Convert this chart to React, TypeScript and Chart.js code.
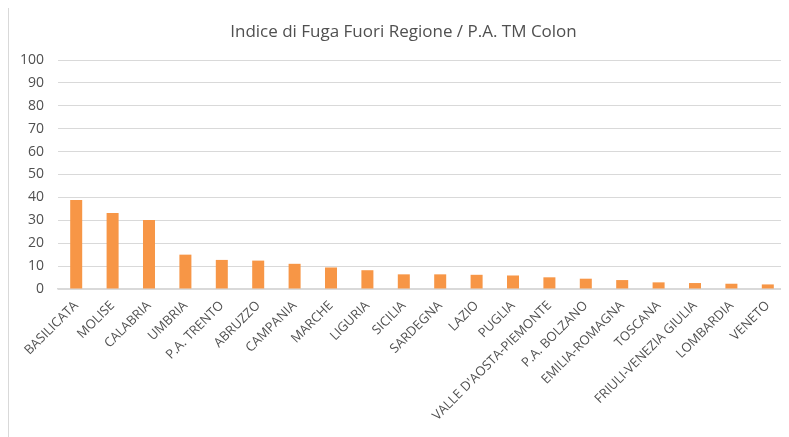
import React, { useEffect, useRef } from "react";
import { Chart, registerables } from "chart.js";

Chart.register(...registerables);

const TITLE = "Indice di Fuga Fuori Regione / P.A. TM Colon";

const categories: string[] = [
  "BASILICATA",
  "MOLISE",
  "CALABRIA",
  "UMBRIA",
  "P.A. TRENTO",
  "ABRUZZO",
  "CAMPANIA",
  "MARCHE",
  "LIGURIA",
  "SICILIA",
  "SARDEGNA",
  "LAZIO",
  "PUGLIA",
  "VALLE D'AOSTA-PIEMONTE",
  "P.A. BOLZANO",
  "EMILIA-ROMAGNA",
  "TOSCANA",
  "FRIULI-VENEZIA GIULIA",
  "LOMBARDIA",
  "VENETO",
];

const values: number[] = [
  38.9, 33.2, 30.1, 15.0, 12.7, 12.4, 11.0, 9.4, 8.2, 6.4, 6.4, 6.2, 5.9, 5.1,
  4.5, 3.9, 2.9, 2.6, 2.3, 2.0,
];

const yMin = 0;
const yMax = 100;
const yStep = 10;

const FONT = "'Open Sans', 'Noto Sans', sans-serif";

export default function App() {
  const ref = useRef<HTMLCanvasElement | null>(null);

  useEffect(() => {
    if (!ref.current) return;
    const chart = new Chart(ref.current, {
      type: "bar",
      data: {
        labels: categories,
        datasets: [
          {
            data: values,
            backgroundColor: "#F79646",
            borderWidth: 0,
            barPercentage: 0.33,
            categoryPercentage: 1,
          },
        ],
      },
      options: {
        responsive: false,
        animation: false,
        layout: { padding: { left: 12, right: 15, top: 14, bottom: 0 } },
        plugins: {
          legend: { display: false },
          tooltip: { enabled: false },
          title: {
            display: true,
            text: TITLE,
            color: "#505050",
            font: { family: FONT, size: 17, weight: "normal" },
            padding: { top: 0, bottom: 17.6 },
          },
        },
        scales: {
          x: {
            grid: { display: false, drawTicks: false },
            border: { display: true, color: "#d9d9d9", width: 1.5 },
            ticks: {
              color: "#505050",
              font: { family: FONT, size: 13 },
              minRotation: 45,
              maxRotation: 45,
              autoSkip: false,
              padding: 9,
            },
            afterFit: (scale: any) => {
              scale.height = 149;
            },
          },
          y: {
            min: yMin,
            max: yMax,
            grid: { color: "#d9d9d9", drawTicks: false },
            border: { display: false },
            ticks: {
              stepSize: yStep,
              color: "#505050",
              font: { family: FONT, size: 14 },
              padding: 14,
            },
            afterFit: (scale: any) => {
              scale.width = 37;
            },
          },
        },
      },
    });
    return () => chart.destroy();
  }, []);

  return (
    <div
      style={{
        width: 810,
        height: 440,
        border: "1px solid #d9d9d9",
        boxSizing: "border-box",
        position: "relative",
        marginTop: -1,
        background: "#fff",
      }}
    >
      <canvas
        ref={ref}
        width={792}
        height={430}
        style={{ display: "block", width: 792, height: 430 }}
      />
    </div>
  );
}
